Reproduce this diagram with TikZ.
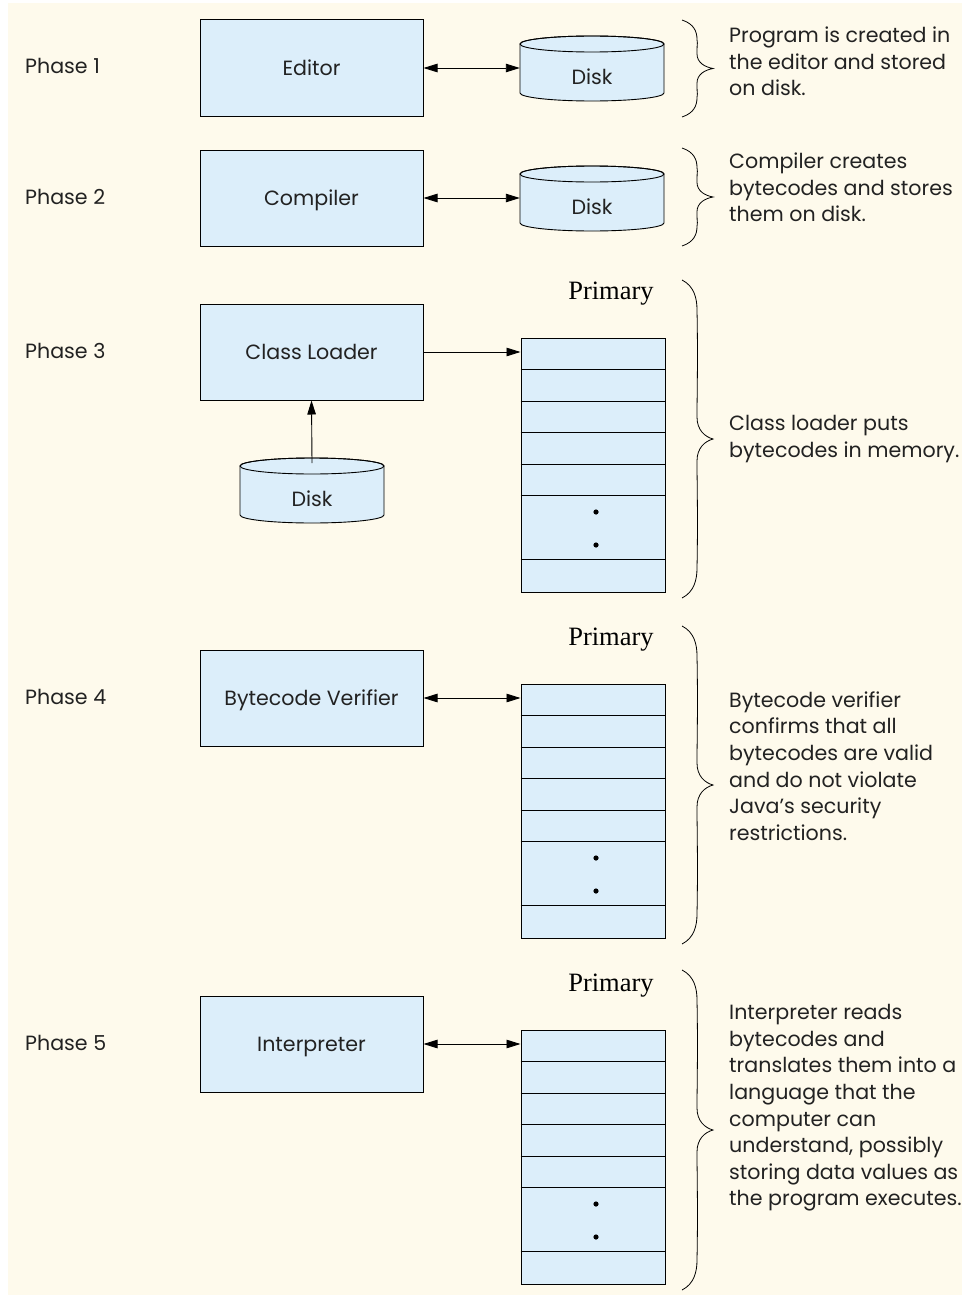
\documentclass[tikz,border=0pt]{standalone}
\usepackage{fontspec}
\setmainfont{Poppins}
\newfontfamily\primfont{Liberation Serif}
\usetikzlibrary{arrows.meta,calc}
\definecolor{bgcream}{HTML}{FEFAEC}
\definecolor{boxblue}{HTML}{DCEEFA}
\definecolor{inkgray}{HTML}{222222}

\newcommand\drawdisk[3]{% cx, top-ellipse centre y, bottom y
  \path[fill=boxblue,draw=black,line width=0.9pt]
    ({#1-72},#2) -- ({#1-72},#3) arc[start angle=180,end angle=0,x radius=72,y radius=8]
    -- ({#1+72},#2) arc[start angle=0,end angle=-180,x radius=72,y radius=8] -- cycle;
  \draw[line width=0.9pt] (#1,#2) ellipse[x radius=72,y radius=8];
}
\newcommand\mybrace[2]{% top, bottom
  \pgfmathsetmacro\bm{(#1+#2)/2}%
  \pgfmathsetmacro\bh{(#2-#1)/2}%
  \pgfmathsetmacro\cu{min(30,0.4*\bh)}%
  \pgfmathsetmacro\tc{min(22,0.3*\bh)}%
  \draw[line width=0.8pt]
    (682,#1) .. controls (694,{#1+0.2*\cu}) and (697,{#1+0.6*\cu}) .. (697,{#1+\cu})
    .. controls (698,{#1+0.5*\bh}) and (697,{\bm-2*\tc}) .. (697,{\bm-\tc})
    .. controls (697,{\bm-0.4*\tc}) and (705,{\bm-0.1*\tc}) .. (713,\bm)
    .. controls (705,{\bm+0.1*\tc}) and (697,{\bm+0.4*\tc}) .. (697,{\bm+\tc})
    .. controls (697,{\bm+2*\tc}) and (698,{#2-0.5*\bh}) .. (697,{#2-\cu})
    .. controls (697,{#2-0.6*\cu}) and (694,{#2-0.2*\cu}) .. (682,#2);
}
\newcommand\memblock[2]{% name, top y
  \node[memrect] (#1) at (593,{#2+127}) {};
  \foreach \k in {32,64,95,127,158,222}
    \draw[line width=0.9pt] ($(#1.north west)+(0,\k)$) -- ($(#1.north east)+(0,\k)$);
  \fill (596,{#2+174}) circle[radius=2.6];
  \fill (596,{#2+207}) circle[radius=2.6];
  \node[primlabel] (#1p) at (611,{#2-44}) {Primary};
}

\begin{document}
\begin{tikzpicture}[x=1pt,y=-1pt,
  every node/.style={font=\fontsize{20.6}{26.6}\selectfont, text=inkgray},
  phasebox/.style={draw=black, fill=boxblue, line width=1pt, minimum width=223, minimum height=96, inner sep=0, text height=14.5pt, text depth=0pt},
  disklabel/.style={minimum width=144, inner sep=0, text height=14.5pt, text depth=0pt},
  memrect/.style={draw=black, fill=boxblue, line width=1pt, minimum width=144, minimum height=254, inner sep=0},
  primlabel/.style={font=\primfont\fontsize{26.5}{30}\selectfont, text=black, inner sep=0},
  phaselabel/.style={anchor=west, inner sep=0},
  desc/.style={anchor=west, align=left, inner sep=0},
  conn/.style={line width=0.9pt, {Triangle[length=14pt,width=8.5pt]}-{Triangle[length=14pt,width=8.5pt]}},
  oneway/.style={line width=0.9pt, -{Triangle[length=14pt,width=8.5pt]}}
]
\useasboundingbox (0,0) rectangle (962,1298);
\fill[bgcream] (8,3) rectangle (962,1295);

% Phase labels
\node[phaselabel] (p1) at (25,66) {Phase 1};
\node[phaselabel] (p2) at (25,197) {Phase 2};
\node[phaselabel] (p3) at (25,351) {Phase 3};
\node[phaselabel] (p4) at (25,697) {Phase 4};
\node[phaselabel] (p5) at (25,1043) {Phase 5};

% Phase 1
\node[phasebox] (editor) at (311.5,68) {Editor};
\drawdisk{592}{44}{93}
\node[disklabel] (disk1) at (592,77) {Disk};
\draw[conn] (editor.east) -- (editor.east -| disk1.west);
\mybrace{20}{117}
\node[desc] (t1) at (729,61.5) {Program is created in\\the editor and stored\\on disk.};

% Phase 2
\node[phasebox] (compiler) at (311.5,198) {Compiler};
\drawdisk{592}{174}{223}
\node[disklabel] (disk2) at (592,207) {Disk};
\draw[conn] (compiler.east) -- (compiler.east -| disk2.west);
\mybrace{148}{246}
\node[desc] (t2) at (729,187.5) {Compiler creates\\bytecodes and stores\\them on disk.};

% Phase 3
\node[phasebox] (loader) at (311.5,352) {Class Loader};
\drawdisk{312}{466}{515}
\node[disklabel] (disk3) at (312,499) {Disk};
\coordinate (disk3top) at (312,463);
\draw[oneway] (disk3top) -- (loader.south);
\memblock{mem3}{338}
\draw[oneway] (loader.east) -- (loader.east -| mem3.west);
\mybrace{280}{598}
\node[desc] (t3) at (729,439) {Class loader puts\\bytecodes in memory.};

% Phase 4
\node[phasebox] (verifier) at (311.5,698) {Bytecode Verifier};
\memblock{mem4}{684}
\draw[conn] (verifier.east) -- (verifier.east -| mem4.west);
\mybrace{626}{944}
\node[desc] (t4) at (729,766) {Bytecode verifier\\confirms that all\\bytecodes are valid\\and do not violate\\Java’s security\\restrictions.};

% Phase 5
\node[phasebox] (interp) at (311.5,1044) {Interpreter};
\memblock{mem5}{1030}
\draw[conn] (interp.east) -- (interp.east -| mem5.west);
\mybrace{970}{1290}
\node[desc] (t5) at (729,1108) {Interpreter reads\\bytecodes and\\translates them into a\\language that the\\computer can\\understand, possibly\\storing data values as\\the program executes.};
\end{tikzpicture}
\end{document}
